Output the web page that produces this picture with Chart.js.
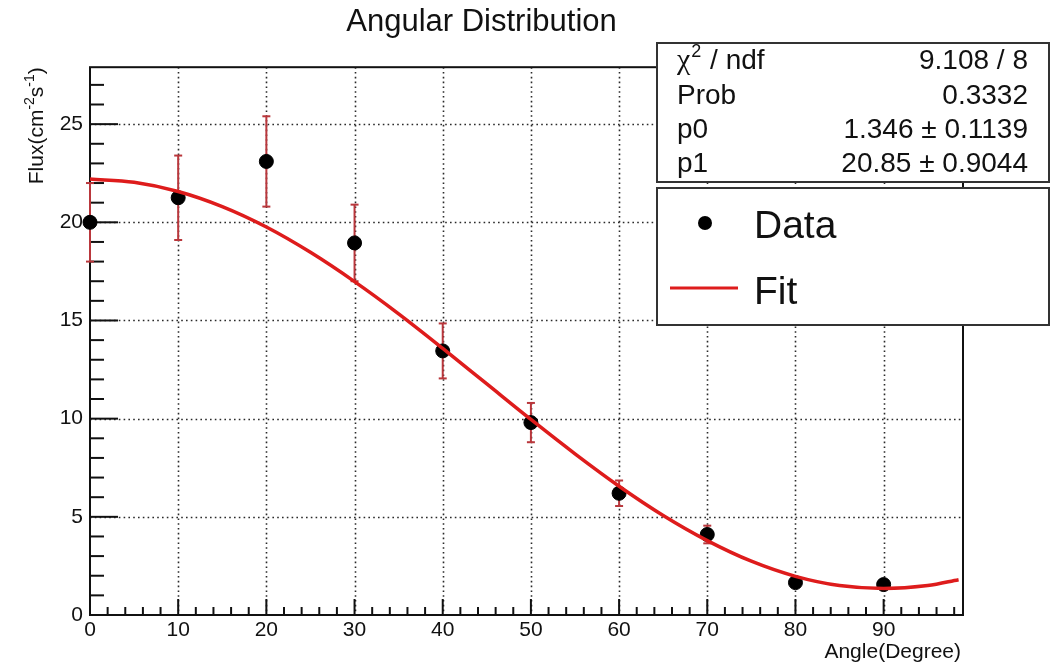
<!DOCTYPE html>
<html>
<head>
<meta charset="utf-8">
<script src="https://cdn.jsdelivr.net/npm/chart.js@4.4.1/dist/chart.umd.min.js"></script>
<style>
  html, body { margin: 0; padding: 0; background: #fff; }
  canvas { display: block; }
</style>
</head>
<body>
<canvas id="c" width="1051" height="669"></canvas>
<script>
// Measured flux per angle, with symmetric uncertainties
const angles  = [0, 10, 20, 30, 40, 50, 60, 70, 80, 90];
const flux    = [20.0, 21.25, 23.1, 18.95, 13.45, 9.8, 6.2, 4.1, 1.65, 1.55];
const fluxErr = [2.0, 2.15, 2.3, 1.95, 1.4, 1.0, 0.65, 0.45, 0.2, 0.15];

// Fitted curve sampled along the angle axis
const fitAngles = [0, 5, 10, 15, 20, 25, 30, 35, 40, 45, 50, 55, 60, 65, 70, 75, 80, 85, 90, 95, 98.5];
const fitFlux   = [22.20, 22.04, 21.57, 20.80, 19.76, 18.47, 16.98, 15.34, 13.58, 11.77, 9.96,
                   8.21, 6.56, 5.07, 3.79, 2.74, 1.97, 1.50, 1.35, 1.50, 1.80];

// Axis tick labels
const xTicks = [0, 10, 20, 30, 40, 50, 60, 70, 80, 90];
const yTicks = [0, 5, 10, 15, 20, 25];

// Fit statistics box
const statNames  = ['chi2/ndf', 'Prob', 'p0', 'p1'];
const statValues = ['9.108 / 8', '0.3332', '1.346 \u00b1 0.1139', '20.85 \u00b1 0.9044'];

const SANS = '"Liberation Sans", Arial, Helvetica, sans-serif';
Chart.defaults.font.family = SANS;
Chart.defaults.color = '#111';

const ERR_COLOR = 'rgb(185,55,60)';
const FIT_COLOR = 'rgb(222,28,28)';

function line(ctx, x1, y1, x2, y2) {
  ctx.beginPath(); ctx.moveTo(x1, y1); ctx.lineTo(x2, y2); ctx.stroke();
}

// Grid, frame with inward ticks, and error bars (under the markers)
const frameAndErrors = {
  id: 'frameAndErrors',
  beforeDatasetsDraw(chart) {
    const { ctx, chartArea: a, scales: { x, y } } = chart;
    ctx.save();
    // dotted grid at major ticks
    ctx.strokeStyle = '#2a2a2a';
    ctx.lineWidth = 1.6;
    ctx.setLineDash([1.6, 3.2]);
    xTicks.forEach(v => {
      if (v === 0) return;
      const px = Math.round(x.getPixelForValue(v)) + 0.5;
      line(ctx, px, a.top, px, a.bottom);
    });
    yTicks.forEach(v => {
      if (v === 0) return;
      const py = Math.round(y.getPixelForValue(v)) + 0.5;
      line(ctx, a.left, py, a.right, py);
    });
    ctx.setLineDash([]);

    // frame
    ctx.strokeStyle = '#111';
    ctx.lineWidth = 2;
    ctx.strokeRect(a.left, a.top, a.right - a.left, a.bottom - a.top);

    // inward ticks
    ctx.lineWidth = 2;
    for (let v = 0; v <= x.max + 1e-9; v += 2) {
      const px = x.getPixelForValue(v);
      const len = v % 10 === 0 ? 16 : 8;
      line(ctx, px, a.bottom, px, a.bottom - len);
    }
    for (let v = 0; v <= y.max + 1e-9; v += 1) {
      const py = y.getPixelForValue(v);
      const len = v % 5 === 0 ? 28 : 14;
      line(ctx, a.left, py, a.left + len, py);
    }

    // error bars
    ctx.strokeStyle = ERR_COLOR;
    ctx.lineWidth = 2;
    angles.forEach((ang, i) => {
      const px = x.getPixelForValue(ang);
      const top = y.getPixelForValue(flux[i] + fluxErr[i]);
      const bot = y.getPixelForValue(flux[i] - fluxErr[i]);
      line(ctx, px, top, px, bot);
      line(ctx, px - 4, top, px + 4, top);
      line(ctx, px - 4, bot, px + 4, bot);
    });
    ctx.restore();
  }
};

// Axis titles, statistics box and legend box
const overlays = {
  id: 'overlays',
  afterDraw(chart) {
    const { ctx, chartArea: a } = chart;
    ctx.save();
    ctx.fillStyle = '#111';

    // x axis title, right aligned under the axis
    ctx.font = '21px ' + SANS;
    ctx.textAlign = 'right';
    ctx.textBaseline = 'alphabetic';
    ctx.fillText('Angle(Degree)', a.right - 2, 658);

    // y axis title, rotated, ending at the top of the frame
    const parts = [
      { t: 'Flux(cm', sup: false }, { t: '-2', sup: true },
      { t: 's', sup: false }, { t: '-1', sup: true }, { t: ')', sup: false }
    ];
    const fMain = '21px ' + SANS, fSup = '14px ' + SANS;
    let total = 0;
    parts.forEach(p => { ctx.font = p.sup ? fSup : fMain; p.w = ctx.measureText(p.t).width; total += p.w; });
    ctx.translate(43, a.top);
    ctx.rotate(-Math.PI / 2);
    ctx.textAlign = 'left';
    let u = -total;
    parts.forEach(p => {
      ctx.font = p.sup ? fSup : fMain;
      ctx.fillText(p.t, u, p.sup ? -9 : 0);
      u += p.w;
    });
    ctx.setTransform(1, 0, 0, 1, 0, 0);

    // statistics box
    const bx = 657, bw = 392;
    ctx.fillStyle = '#fff';
    ctx.strokeStyle = '#333';
    ctx.lineWidth = 2;
    ctx.fillRect(bx, 43, bw, 139);
    ctx.strokeRect(bx, 43, bw, 139);
    const baselines = [69, 104, 138, 172];
    ctx.fillStyle = '#111';
    statNames.forEach((name, i) => {
      const yb = baselines[i];
      ctx.textAlign = 'left';
      if (name === 'chi2/ndf') {
        ctx.font = '30px "Liberation Serif", "Times New Roman", serif';
        ctx.fillText('\u03c7', 677, yb);
        let xx = 677 + ctx.measureText('\u03c7').width + 1;
        ctx.font = '18px ' + SANS;
        ctx.fillText('2', xx, yb - 12);
        xx += ctx.measureText('2').width + 1;
        ctx.font = '28px ' + SANS;
        ctx.fillText(' / ndf', xx, yb);
      } else {
        ctx.font = '28px ' + SANS;
        ctx.fillText(name, 677, yb);
      }
      ctx.font = '28px ' + SANS;
      ctx.textAlign = 'right';
      ctx.fillText(statValues[i], 1028, yb);
    });

    // legend box
    ctx.fillStyle = '#fff';
    ctx.fillRect(bx, 188, bw, 137);
    ctx.strokeRect(bx, 188, bw, 137);
    const dataDs = chart.data.datasets[1];
    const fitDs = chart.data.datasets[0];
    ctx.fillStyle = dataDs.backgroundColor;
    ctx.beginPath(); ctx.arc(705, 223, 7, 0, Math.PI * 2); ctx.fill();
    ctx.strokeStyle = fitDs.borderColor;
    ctx.lineWidth = 3;
    line(ctx, 670, 288, 738, 288);
    ctx.fillStyle = '#111';
    ctx.font = '39px ' + SANS;
    ctx.textAlign = 'left';
    ctx.fillText(dataDs.label, 754, 238);
    ctx.fillText(fitDs.label, 754, 304);
    ctx.restore();
  }
};

new Chart(document.getElementById('c'), {
  type: 'scatter',
  data: {
    datasets: [
      {
        label: 'Fit',
        type: 'line',
        data: fitAngles.map((a, i) => ({ x: a, y: fitFlux[i] })),
        borderColor: FIT_COLOR,
        borderWidth: 3.5,
        pointRadius: 0,
        fill: false,
        cubicInterpolationMode: 'monotone'
      },
      {
        label: 'Data',
        data: angles.map((a, i) => ({ x: a, y: flux[i] })),
        backgroundColor: '#000',
        borderColor: '#000',
        pointRadius: 7,
        pointHoverRadius: 7,
        clip: false
      }
    ]
  },
  options: {
    responsive: false,
    animation: false,
    events: [],
    layout: { padding: { left: 0, right: 88, top: 0, bottom: 0 } },
    plugins: {
      legend: { display: false },
      tooltip: { enabled: false },
      title: {
        display: true,
        text: 'Angular Distribution',
        color: '#111',
        font: { size: 31, weight: 'normal', lineHeight: 1.2 },
        padding: { top: 4, bottom: 26 }
      }
    },
    scales: {
      x: {
        type: 'linear',
        min: 0, max: 99,
        grid: { display: false, drawTicks: false },
        border: { display: false },
        ticks: { stepSize: 10, autoSkip: false, maxRotation: 0, padding: 3, font: { size: 21 }, color: '#111' },
        afterBuildTicks: s => { s.ticks = xTicks.map(v => ({ value: v })); },
        afterFit: s => { s.height = 54; }
      },
      y: {
        type: 'linear',
        min: 0, max: 27.9,
        grid: { display: false, drawTicks: false },
        border: { display: false },
        ticks: { stepSize: 5, padding: 7, font: { size: 21 }, color: '#111' },
        afterBuildTicks: s => { s.ticks = yTicks.map(v => ({ value: v })); },
        afterFit: s => { s.width = 90; }
      }
    }
  },
  plugins: [frameAndErrors, overlays]
});
</script>
</body>
</html>
